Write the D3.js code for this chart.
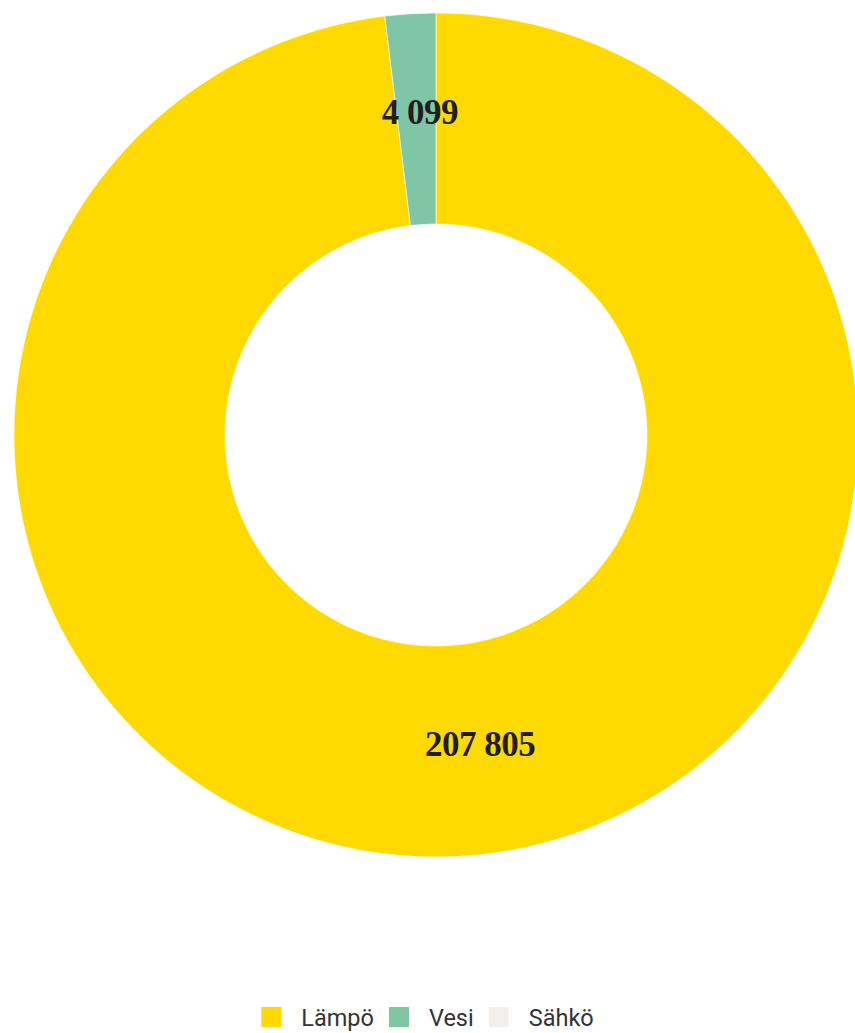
<!DOCTYPE html>
<html>
<head>
<meta charset="utf-8">
<script src="https://cdn.jsdelivr.net/npm/d3@7"></script>
<style>
  html, body { margin: 0; padding: 0; background: #fff; }
</style>
</head>
<body>
<div id="chart"></div>
<script>
const categories = ["Lämpö", "Vesi", "Sähkö"];
const values = [207805, 4099, 0];
const colors = ["#FFDA00", "#7EC6A5", "#F3EFED"];

const width = 855;
const height = 1033;
const cx = 436, cy = 435;
const outerRadius = 422;
const innerRadius = 211;

const svg = d3.select("#chart")
    .append("svg")
    .attr("width", width)
    .attr("height", height);

const data = categories.map((c, i) => ({ name: c, value: values[i], color: colors[i] }));

// pie from 12 o'clock, clockwise, keep order
const pie = d3.pie()
    .sort(null)
    .value(d => d.value);

const arc = d3.arc()
    .innerRadius(innerRadius)
    .outerRadius(outerRadius);

const arcs = pie(data);

const g = svg.append("g")
    .attr("transform", `translate(${cx},${cy})`);

g.selectAll("path")
    .data(arcs.filter(d => d.data.value > 0))
    .join("path")
    .attr("d", arc)
    .attr("fill", d => d.data.color)
    .attr("stroke", "#ffffff")
    .attr("stroke-width", 0.6);

const fmt = v => d3.format(",")(v).replace(/,/g, " ");

g.selectAll("text")
    .data(arcs.filter(d => d.data.value > 0))
    .join("text")
    .attr("transform", d => `translate(${arc.centroid(d)})`)
    .attr("dx", d => d.index === 0 ? 25 : 3)
    .attr("dy", "0.15em")
    .attr("text-anchor", "middle")
    .attr("font-family", "'Liberation Serif', 'DejaVu Serif', serif")
    .attr("font-weight", "bold")
    .attr("font-size", 35)
    .attr("letter-spacing", -0.5)
    .attr("fill", "#1f1f1f")
    .text(d => fmt(d.data.value));

// legend
const legend = svg.append("g")
    .attr("font-family", "Roboto, sans-serif")
    .attr("font-size", 23.5)
    .attr("fill", "#333");

const items = legend.selectAll("g")
    .data(data)
    .join("g");

items.append("rect")
    .attr("width", 20)
    .attr("height", 20)
    .attr("fill", d => d.color);

items.append("text")
    .attr("x", 40)
    .attr("y", 19)
    .attr("fill", "#333")
    .text(d => d.name);

// lay out items horizontally, then center
let xpos = 0;
items.each(function () {
    const node = d3.select(this);
    node.attr("transform", `translate(${xpos},0)`);
    const w = node.select("text").node().getComputedTextLength();
    xpos += 40 + w + 15;
});
const total = xpos - 15;
legend.attr("transform", `translate(${(width - total) / 2},1007)`);
</script>
</body>
</html>
